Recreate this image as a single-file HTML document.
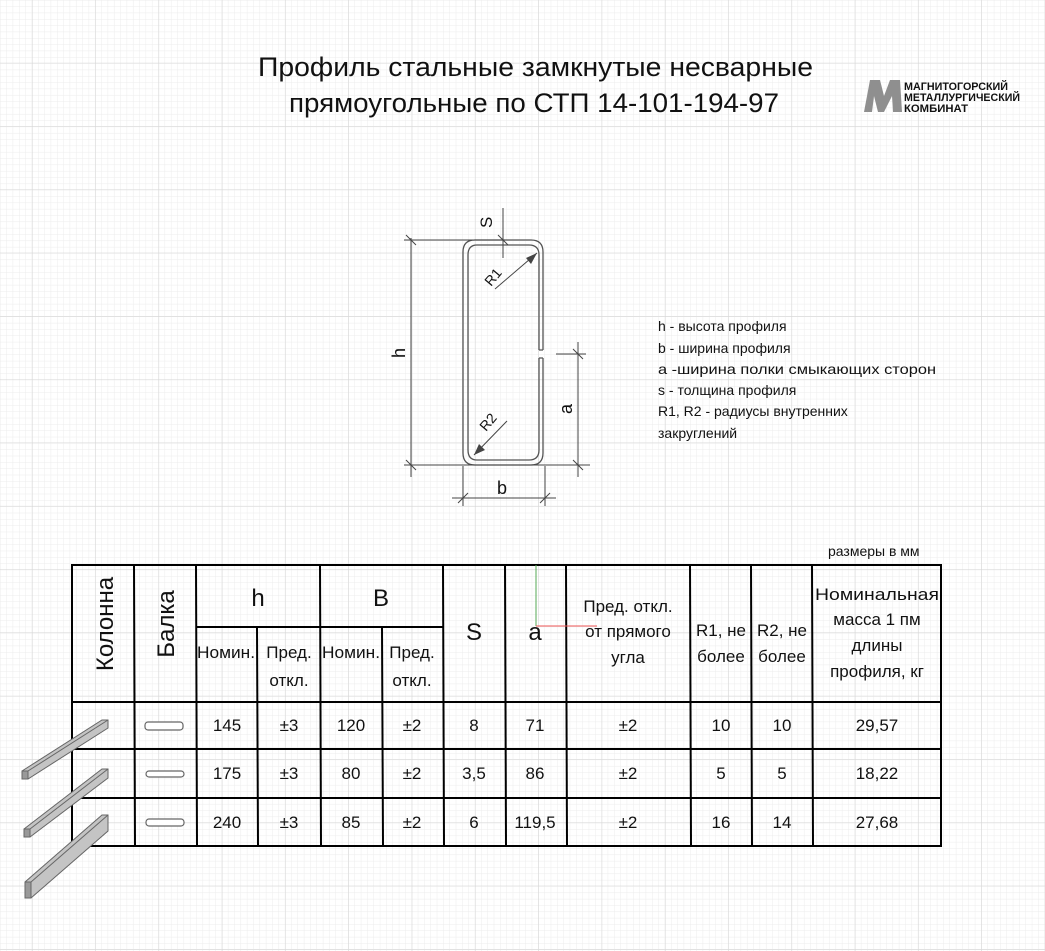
<!DOCTYPE html>
<html><head><meta charset="utf-8"><style>
html,body{margin:0;padding:0;background:#fff}
svg{display:block}
text{font-family:"Liberation Sans","DejaVu Sans",sans-serif;fill:#111}
</style></head><body>
<svg width="1045" height="951" viewBox="0 0 1045 951" xmlns="http://www.w3.org/2000/svg">
<defs>
<pattern id="g1" x="0.5" y="0.5" width="6.33" height="6.33" patternUnits="userSpaceOnUse">
<path d="M6.33 0V6.33H0" fill="none" stroke="#ececec" stroke-width="1"/>
</pattern>
<pattern id="g2" x="32" y="0" width="63.3" height="63.3" patternUnits="userSpaceOnUse">
<path d="M0 0V63.3M0 63.3H63.3" fill="none" stroke="#d6d6d6" stroke-width="1"/>
</pattern>
</defs>
<rect width="1045" height="951" fill="#fff"/>
<rect width="1045" height="951" fill="url(#g1)"/>
<rect width="1045" height="951" fill="url(#g2)"/>

<!-- title -->
<text x="258" y="76" font-size="27" textLength="555" lengthAdjust="spacingAndGlyphs">Профиль стальные замкнутые несварные</text>
<text x="289" y="112" font-size="27" textLength="490" lengthAdjust="spacingAndGlyphs">прямоугольные по СТП 14-101-194-97</text>

<!-- logo -->
<g fill="#8f8f8f">
<polygon points="864,112 870,80 880,80 884,96 890,80 900,80 902,112 893,112 892,96 884,112 878,112 874,96 872,112"/>
<text x="904" y="90" font-size="11" font-weight="bold" fill="#8f8f8f" textLength="104" lengthAdjust="spacingAndGlyphs">МАГНИТОГОРСКИЙ</text>
<text x="904" y="101" font-size="11" font-weight="bold" fill="#8f8f8f" textLength="116" lengthAdjust="spacingAndGlyphs">МЕТАЛЛУРГИЧЕСКИЙ</text>
<text x="904" y="112" font-size="11" font-weight="bold" fill="#8f8f8f" textLength="64" lengthAdjust="spacingAndGlyphs">КОМБИНАТ</text>
</g>

<!-- profile -->
<g fill="none" stroke="#555" stroke-width="1.3">
<path d="M543 350 V252 Q543 240 531 240 H475 Q463 240 463 252 V453 Q463 465 475 465 H531 Q543 465 543 453 V358"/>
<path d="M539 350 V255 Q539 245 529 245 H477 Q468 245 468 255 V450 Q468 460 477 460 H529 Q539 460 539 450 V358"/>
<path d="M539 350 H543 M539 358 H543"/>
</g>
<g stroke="#444" stroke-width="1" fill="none">
<line x1="411" y1="238" x2="411" y2="477"/>
<line x1="404" y1="240" x2="505" y2="240"/>
<line x1="404" y1="465" x2="590" y2="465"/>
<line x1="406" y1="235" x2="416" y2="245"/>
<line x1="406" y1="460" x2="416" y2="470"/>
<line x1="503" y1="208" x2="503" y2="258"/>
<line x1="498" y1="235" x2="508" y2="245"/>
<line x1="578" y1="342" x2="578" y2="477"/>
<line x1="556" y1="354" x2="586" y2="354"/>
<line x1="573" y1="349" x2="583" y2="359"/>
<line x1="573" y1="460" x2="583" y2="470"/>
<line x1="452" y1="498" x2="556" y2="498"/>
<line x1="463" y1="466" x2="463" y2="506"/>
<line x1="545" y1="466" x2="545" y2="506"/>
<line x1="458" y1="503" x2="468" y2="493"/>
<line x1="540" y1="503" x2="550" y2="493"/>
<line x1="495" y1="289" x2="537" y2="253"/>
<line x1="507" y1="421" x2="474" y2="455"/>
</g>
<polygon points="537,253 526,258 531,264" fill="#444"/>
<polygon points="474,455 479,444 485,450" fill="#444"/>
<text font-size="17" fill="#444" transform="translate(492,228) rotate(-90)">S</text>
<text font-size="18" fill="#444" transform="translate(405,358) rotate(-90)">h</text>
<text font-size="18" fill="#444" transform="translate(572,414) rotate(-90)">a</text>
<text x="497" y="494" font-size="18" fill="#444">b</text>
<text font-size="14" fill="#444" transform="translate(491,287) rotate(-50)">R1</text>
<text font-size="14" fill="#444" transform="translate(486,432) rotate(-50)">R2</text>

<!-- legend -->
<g font-size="14" fill="#222">
<text x="658" y="331">h - высота профиля</text>
<text x="658" y="353">b - ширина профиля</text>
<text x="658" y="374" textLength="278" lengthAdjust="spacingAndGlyphs">a -ширина полки смыкающих сторон</text>
<text x="658" y="395">s - толщина профиля</text>
<text x="658" y="416">R1, R2 - радиусы внутренних</text>
<text x="658" y="438">закруглений</text>
</g>
<text x="828" y="556" font-size="14">размеры в мм</text>

<!-- table -->
<g stroke="#000" stroke-width="2" fill="none">
<rect x="72" y="565" width="869" height="281"/>
<line x1="72" y1="702" x2="941" y2="702"/>
<line x1="72" y1="749" x2="941" y2="749"/>
<line x1="72" y1="798" x2="941" y2="798"/>
<line x1="196" y1="627" x2="443" y2="627"/>
<line x1="134" y1="565" x2="135" y2="846"/>
<line x1="196" y1="565" x2="197" y2="846"/>
<line x1="257" y1="627" x2="258" y2="846"/>
<line x1="320" y1="565" x2="321" y2="846"/>
<line x1="382" y1="627" x2="383" y2="846"/>
<line x1="443" y1="565" x2="444" y2="846"/>
<line x1="505" y1="565" x2="506" y2="846"/>
<line x1="566" y1="565" x2="567" y2="846"/>
<line x1="690" y1="565" x2="691" y2="846"/>
<line x1="751" y1="565" x2="752" y2="846"/>
<line x1="812" y1="565" x2="813" y2="846"/>
</g>
<line x1="536" y1="565" x2="536" y2="626" stroke="#5a5" stroke-width="1"/>
<line x1="536" y1="626" x2="597" y2="626" stroke="#e55" stroke-width="1"/>

<g font-size="17" text-anchor="middle">
<text font-size="24" transform="translate(113,624) rotate(-90)">Колонна</text>
<text font-size="24" transform="translate(174,624) rotate(-90)">Балка</text>
<text x="258" y="606" font-size="24">h</text>
<text x="381" y="606" font-size="24">B</text>
<text x="474" y="640" font-size="24">S</text>
<text x="535" y="640" font-size="24">a</text>
<text x="226" y="658" textLength="58" lengthAdjust="spacingAndGlyphs">Номин.</text>
<text x="289" y="658">Пред.</text>
<text x="289" y="686">откл.</text>
<text x="351" y="658" textLength="58" lengthAdjust="spacingAndGlyphs">Номин.</text>
<text x="412" y="658">Пред.</text>
<text x="412" y="686">откл.</text>
<text x="628" y="612">Пред. откл.</text>
<text x="628" y="637">от прямого</text>
<text x="628" y="663">угла</text>
<text x="721" y="636">R1, не</text>
<text x="721" y="662">более</text>
<text x="782" y="636">R2, не</text>
<text x="782" y="662">более</text>
<text x="877" y="600" textLength="124" lengthAdjust="spacingAndGlyphs">Номинальная</text>
<text x="877" y="625">масса 1 пм</text>
<text x="877" y="651">длины</text>
<text x="877" y="677">профиля, кг</text>

<text x="227" y="731">145</text><text x="289" y="731">±3</text><text x="351" y="731">120</text><text x="412" y="731">±2</text><text x="474" y="731">8</text><text x="535" y="731">71</text><text x="628" y="731">±2</text><text x="721" y="731">10</text><text x="782" y="731">10</text><text x="877" y="731">29,57</text>
<text x="227" y="779">175</text><text x="289" y="779">±3</text><text x="351" y="779">80</text><text x="412" y="779">±2</text><text x="474" y="779">3,5</text><text x="535" y="779">86</text><text x="628" y="779">±2</text><text x="721" y="779">5</text><text x="782" y="779">5</text><text x="877" y="779">18,22</text>
<text x="227" y="828">240</text><text x="289" y="828">±3</text><text x="351" y="828">85</text><text x="412" y="828">±2</text><text x="474" y="828">6</text><text x="535" y="828">119,5</text><text x="628" y="828">±2</text><text x="721" y="828">16</text><text x="782" y="828">14</text><text x="877" y="828">27,68</text>
</g>

<!-- balka icons -->
<g fill="#fff" stroke="#666" stroke-width="1.2">
<rect x="145" y="722" width="38" height="8" rx="3"/>
<rect x="146" y="771" width="38" height="6" rx="3"/>
<rect x="146" y="819" width="38" height="7" rx="3"/>
</g>

<!-- colonna bars -->
<g stroke="#666" stroke-width="1">
<polygon points="22,771 102,720 108,720 108,728 28,779 22,779" fill="#c4c4c4"/>
<line x1="28" y1="771" x2="108" y2="720"/>
<polygon points="22,771 28,771 28,779 22,779" fill="#999"/>
<polygon points="24,829 102,769 108,769 108,778 30,837 24,837" fill="#c4c4c4"/>
<line x1="30" y1="829" x2="108" y2="769"/>
<polygon points="24,829 30,829 30,837 24,837" fill="#999"/>
<polygon points="25,882 102,815 108,815 108,831 31,898 25,898" fill="#c4c4c4"/>
<line x1="31" y1="882" x2="108" y2="815"/>
<polygon points="25,882 31,882 31,898 25,898" fill="#999"/>
</g>
</svg>
</body></html>
